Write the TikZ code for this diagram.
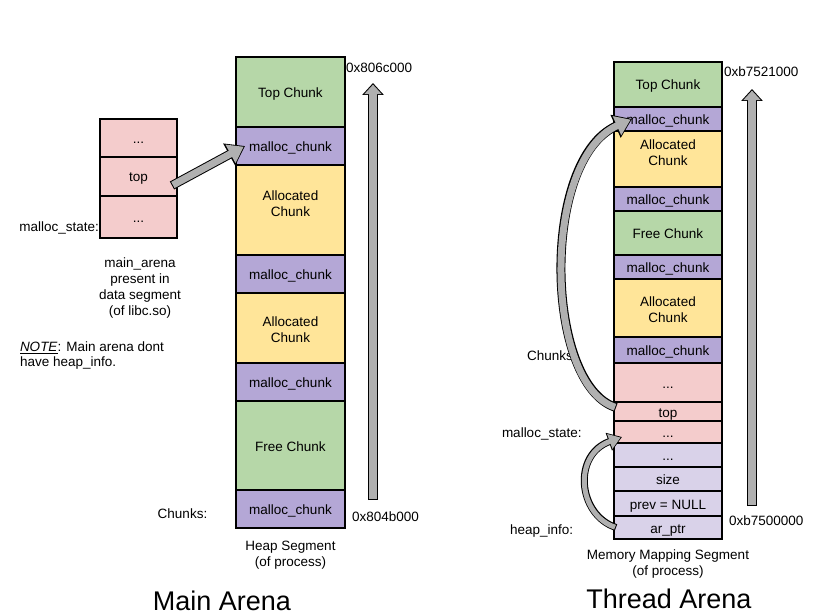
\documentclass[tikz,border=0pt]{standalone}
\usepackage{fontspec}
\setmainfont{Liberation Sans}
\usetikzlibrary{arrows.meta}
\definecolor{cgreen}{HTML}{B6D7A8}
\definecolor{cpurple}{HTML}{B4A7D6}
\definecolor{cyellow}{HTML}{FFE599}
\definecolor{cpink}{HTML}{F4CCCC}
\definecolor{clav}{HTML}{D9D2E9}
\definecolor{cgray}{HTML}{B0B0B0}
\tikzset{
  lbl/.style={font=\fontsize{13.5}{16}\selectfont, inner sep=0pt, outer sep=0pt, yshift=-2pt},
  title/.style={font=\fontsize{27}{32}\selectfont, inner sep=0pt, anchor=base},
  cell/.style={draw=black, line width=1.6pt, inner sep=0pt, outer sep=0pt,
    font=\fontsize{13.5}{16}\selectfont, text height=11pt, text depth=0pt},
  mcell/.style={cell, minimum width=109pt},
  scell/.style={cell, minimum width=77pt, fill=cpink},
  tcell/.style={cell, minimum width=108pt},
  inlbl/.style={font=\fontsize{13.5}{16}\selectfont, align=center, inner sep=0pt},
  bigout/.style={line width=9pt, black, -{Triangle[length=18pt,width=24pt]}},
  bigin/.style={line width=7pt, cgray, shorten <=1pt, shorten >=1.5pt, -{Triangle[length=15pt,width=20pt]}},
  smallout/.style={line width=7pt, black, -{Triangle[length=14pt,width=18pt]}},
  smallin/.style={line width=5pt, cgray, shorten <=1pt, shorten >=1.5pt, -{Triangle[length=11.5pt,width=15pt]}},
  vout/.style={line width=10pt, black, -{Triangle[length=12pt,width=21pt]}},
  vin/.style={line width=8pt, cgray, shorten <=1pt, shorten >=1.6pt, -{Triangle[length=9.6pt,width=17pt]}},
}
\begin{document}
\begin{tikzpicture}[x=1pt,y=-1pt]
\useasboundingbox (0,0) rectangle (820,615);
\fill[white] (0,0) rectangle (820,615);

% ---------------- Main arena: heap segment ----------------
\node[mcell, fill=cgreen,  minimum height=70pt] (mTop)  at (290.5,92)    {Top Chunk};
\node[mcell, fill=cpurple, minimum height=38pt] (mMc1)  at (290.5,146)   {malloc\_chunk};
\node[mcell, fill=cyellow, minimum height=90pt,
      label={[inlbl, name=mAl1t, yshift=6.5pt]center:Allocated\\Chunk}] (mAl1) at (290.5,210) {};
\node[mcell, fill=cpurple, minimum height=38pt] (mMc2)  at (290.5,274)   {malloc\_chunk};
\node[mcell, fill=cyellow, minimum height=70pt,
      label={[inlbl, name=mAl2t, yshift=-1.5pt]center:Allocated\\Chunk}] (mAl2) at (290.5,328) {};
\node[mcell, fill=cpurple, minimum height=38pt] (mMc3)  at (290.5,382)   {malloc\_chunk};
\node[mcell, fill=cgreen,  minimum height=89pt] (mFree) at (290.5,445.5) {Free Chunk};
\node[mcell, fill=cpurple, minimum height=38pt] (mMc4)  at (290.5,509)   {malloc\_chunk};

% main_arena malloc_state
\node[scell, minimum height=38pt] (lDot1) at (138.5,138)   {...};
\node[scell, minimum height=39pt] (lTop)  at (138.5,176.5) {top};
\node[scell, minimum height=42pt] (lDot2) at (138.5,217)   {...};

% labels (main)
\node[lbl, anchor=mid west] (aHi)   at (346,68)  {0x806c000};
\node[lbl, anchor=mid west] (aLo)   at (352,517) {0x804b000};
\node[lbl, anchor=mid]      (mChk)  at (182.5,514) {Chunks:};
\node[lbl, anchor=mid east] (mMs)   at (99,227)  {malloc\_state:};
\node[lbl, anchor=mid] (ma1) at (140,263) {main\_arena};
\node[lbl, anchor=mid] (ma2) at (140,279) {present in};
\node[lbl, anchor=mid] (ma3) at (140,295) {data segment};
\node[lbl, anchor=mid] (ma4) at (140,311) {(of libc.so)};
\node[lbl, anchor=mid west] (note1) at (20,347) {\underline{\textit{NOTE}}: Main arena dont};
\node[lbl, anchor=mid west] (note2) at (20,362) {have heap\_info.};
\node[lbl, anchor=mid] (hs1) at (290.5,546) {Heap Segment};
\node[lbl, anchor=mid] (hs2) at (290.5,562) {(of process)};
\node[title] (tMain) at (222,610) {Main Arena};

% ---------------- Thread arena: memory mapping segment ----------------
\node[tcell, fill=cgreen,  minimum height=45pt] (tTop)  at (668,84.5)  {Top Chunk};
\node[tcell, fill=cpurple, minimum height=24pt] (tMc1)  at (668,119)   {malloc\_chunk};
\node[tcell, fill=cyellow, minimum height=56pt,
      label={[inlbl, name=tAl1t, yshift=6pt]center:Allocated\\Chunk}] (tAl1) at (668,159) {};
\node[tcell, fill=cpurple, minimum height=24pt] (tMc2)  at (668,199)   {malloc\_chunk};
\node[tcell, fill=cgreen,  minimum height=44pt] (tFree) at (668,233)   {Free Chunk};
\node[tcell, fill=cpurple, minimum height=24pt] (tMc3)  at (668,267)   {malloc\_chunk};
\node[tcell, fill=cyellow, minimum height=58pt,
      label={[inlbl, name=tAl2t, yshift=-1.5pt]center:Allocated\\Chunk}] (tAl2) at (668,308) {};
\node[tcell, fill=cpurple, minimum height=26pt] (tMc4)  at (668,350)   {malloc\_chunk};
\node[tcell, fill=cpink,   minimum height=39pt] (tDot1) at (668,382.5) {...};
\node[tcell, fill=cpink,   minimum height=19pt] (tTopf) at (668,411.5) {top};
\node[tcell, fill=cpink,   minimum height=22pt] (tDot2) at (668,432)   {...};
\node[tcell, fill=clav,    minimum height=24pt] (tDot3) at (668,455)   {...};
\node[tcell, fill=clav,    minimum height=24pt] (tSize) at (668,479)   {size};
\node[tcell, fill=clav,    minimum height=25pt] (tPrev) at (668,503.5) {prev = NULL};
\node[tcell, fill=clav,    minimum height=23pt] (tAr)   at (668,527.5) {ar\_ptr};

% labels (thread)
\node[lbl, anchor=mid west] (bHi)  at (724,72)  {0xb7521000};
\node[lbl, anchor=mid west] (bLo)  at (729,521) {0xb7500000};
\node[lbl, anchor=mid west] (tChk) at (527,356) {Chunks:};
\node[lbl, anchor=mid west] (tMs)  at (502,433) {malloc\_state:};
\node[lbl, anchor=mid west] (tHi)  at (510,530) {heap\_info:};
\node[lbl, anchor=mid] (mm1) at (668,555) {Memory Mapping Segment};
\node[lbl, anchor=mid] (mm2) at (668,571) {(of process)};
\node[title] (tThread) at (669,608) {Thread Arena};

% ---------------- address-growth arrows ----------------
\coordinate (mvB) at (373,500);
\coordinate (mvT) at (373,83);
\coordinate (tvB) at (752,506);
\coordinate (tvT) at (752,89);
\draw[vout] (mvB) -- (mvT);
\draw[vin]  (mvB) -- (mvT);
\draw[vout] (tvB) -- (tvT);
\draw[vin]  (tvB) -- (tvT);

% ---------------- pointer arrows ----------------
% main_arena.top -> malloc_chunk
\draw[bigout] ([xshift=-5pt,yshift=-9pt]lTop.east) -- ([xshift=9pt]mMc1.west);
\draw[bigin]  ([xshift=-5pt,yshift=-9pt]lTop.east) -- ([xshift=9pt]mMc1.west);
% thread top -> malloc_chunk
\draw[bigout] ([xshift=2pt,yshift=4pt]tTopf.west) .. controls (545,385) and (540,160) .. ([xshift=18pt]tMc1.west);
\draw[bigin]  ([xshift=2pt,yshift=4pt]tTopf.west) .. controls (545,385) and (540,160) .. ([xshift=18pt]tMc1.west);
% ar_ptr -> malloc_state
\draw[smallout] ([xshift=2pt]tAr.west) .. controls (578,515) and (572,455) .. ([xshift=8pt,yshift=-5pt]tDot2.west);
\draw[smallin]  ([xshift=2pt]tAr.west) .. controls (578,515) and (572,455) .. ([xshift=8pt,yshift=-5pt]tDot2.west);
\end{tikzpicture}
\end{document}
